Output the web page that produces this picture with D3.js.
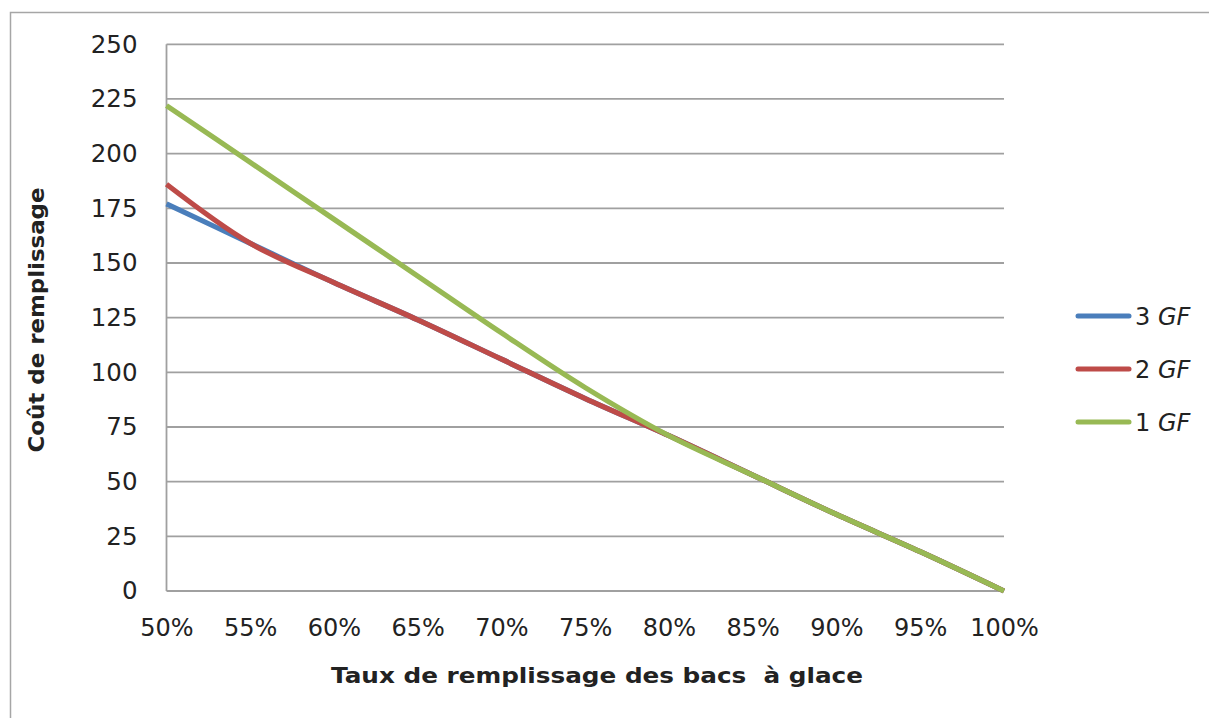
<!DOCTYPE html>
<html><head><meta charset="utf-8">
<script src="https://cdn.jsdelivr.net/npm/d3@7"></script>
<style>body{margin:0;background:#fff}svg{display:block}</style>
</head><body>
<script>
const categories = ["50%","55%","60%","65%","70%","75%","80%","85%","90%","95%","100%"];
const yTicks = [0,25,50,75,100,125,150,175,200,225,250];
const gf3 = [177,159,141,124,106,88,71,53,35,18,0];
const gf2 = [186,159,141,124,106,88,71,53,35,18,0];
const gf1 = [222,196,170,144,118,93,71,53,35,18,0];
const seriesNames = ["3 GF","2 GF","1 GF"];
const colors = ["#4A7EBB","#BE4B48","#98B954"];
const seriesValues = [gf3, gf2, gf1];

const W = 1209, H = 718;
const svg = d3.select("body").append("svg").attr("width", W).attr("height", H);
const font = "'Comic Sans MS','DejaVu Sans',sans-serif";

svg.append("rect").attr("x",10.5).attr("y",12.5).attr("width",1210).attr("height",720)
  .attr("fill","none").attr("stroke","#a6a6a6").attr("stroke-width",1.5);

const x = d3.scalePoint().domain(categories).range([166.5, 1004]);
const y = d3.scaleLinear().domain([0,250]).range([591, 44.3]);

const grid = svg.append("g");
grid.selectAll("line").data(yTicks).join("line")
  .attr("x1",166.5).attr("x2",1004).attr("y1",d=>y(d)).attr("y2",d=>y(d))
  .attr("stroke","#a0a0a0").attr("stroke-width",1.8);
grid.append("line").attr("x1",166.5).attr("x2",166.5).attr("y1",y(250)).attr("y2",y(0))
  .attr("stroke","#a0a0a0").attr("stroke-width",1.8);

const yAxis = d3.axisLeft(y).tickValues(yTicks).tickSize(0).tickPadding(29);
const gy = svg.append("g").attr("transform","translate(166.5,0)").call(yAxis);
gy.select(".domain").remove();
gy.selectAll("text").attr("font-family",font).attr("font-size",24.5).attr("fill","#222");

const xAxis = d3.axisBottom(x).tickSize(0).tickPadding(28);
const gx = svg.append("g").attr("transform","translate(0,591)").call(xAxis);
gx.select(".domain").remove();
gx.selectAll("text").attr("font-family",font).attr("font-size",24).attr("fill","#222");

const line = d3.line().x((d,i)=>x(categories[i])).y(d=>y(d)).curve(d3.curveCatmullRom.alpha(0.5));
seriesValues.forEach((vals,k)=>{
  svg.append("path").datum(vals).attr("d",line).attr("fill","none")
    .attr("stroke",colors[k]).attr("stroke-width",5.2).attr("stroke-linejoin","round");
});

svg.append("text").attr("transform","translate(44,320) rotate(-90)")
  .attr("text-anchor","middle").attr("font-family",font).attr("font-weight","bold")
  .attr("font-size",22).attr("fill","#222").attr("textLength",265).attr("lengthAdjust","spacingAndGlyphs")
  .text("Coût de remplissage");
svg.append("text").attr("x",597).attr("y",683)
  .attr("text-anchor","middle").attr("font-family",font).attr("font-weight","bold")
  .attr("font-size",22).attr("fill","#222").attr("xml:space","preserve").style("white-space","pre")
  .attr("textLength",532).attr("lengthAdjust","spacingAndGlyphs")
  .text("Taux de remplissage des bacs  à glace");

const legY = [316, 369, 422];
seriesNames.forEach((name,k)=>{
  const g = svg.append("g");
  g.append("line").attr("x1",1078).attr("x2",1129).attr("y1",legY[k]).attr("y2",legY[k])
    .attr("stroke",colors[k]).attr("stroke-width",5).attr("stroke-linecap","round");
  const parts = name.split(" ");
  const t = g.append("text").attr("x",1135).attr("y",legY[k]+9).attr("font-family",font)
    .attr("font-size",24).attr("fill","#222");
  t.append("tspan").text(parts[0]+" ");
  t.append("tspan").attr("font-style","italic").text(parts[1]);
});
</script>
</body></html>
